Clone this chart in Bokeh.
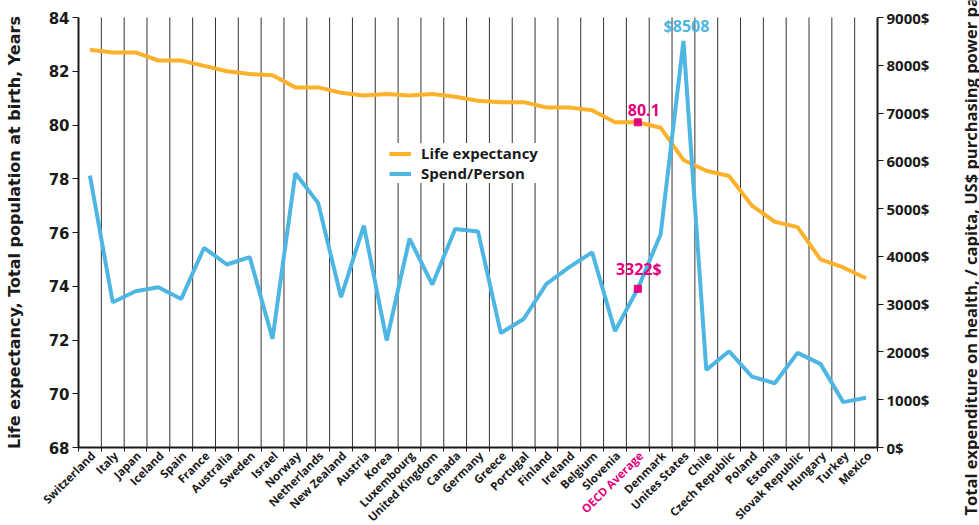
import math
from bokeh.plotting import figure
from bokeh.models import (Range1d, LinearAxis, FixedTicker, PrintfTickFormatter, Legend,
                          LegendItem, ColumnDataSource, Label)
from bokeh.core.properties import value
from bokeh.embed import file_html
from bokeh.resources import INLINE

countries = ["Switzerland", "Italy", "Japan", "Iceland", "Spain", "France", "Australia",
             "Sweden", "Israel", "Norway", "Netherlands", "New Zealand", "Austria", "Korea",
             "Luxembourg", "United Kingdom", "Canada", "Germany", "Greece", "Portugal",
             "Finland", "Ireland", "Belgium", "Slovenia", "OECD Average", "Denmark",
             "Unites States", "Chile", "Czech Republic", "Poland", "Estonia",
             "Slovak Republic", "Hungary", "Turkey", "Mexico"]
life = [82.8, 82.7, 82.7, 82.4, 82.4, 82.2, 82.0, 81.9, 81.85, 81.4, 81.4, 81.2, 81.1,
        81.15, 81.1, 81.15, 81.05, 80.9, 80.85, 80.85, 80.65, 80.65, 80.55, 80.1, 80.1,
        79.9, 78.7, 78.3, 78.1, 77.0, 76.4, 76.2, 75.0, 74.7, 74.3]
spend = [5690, 3040, 3270, 3355, 3110, 4180, 3830, 3985, 2275, 5740, 5115, 3145, 4645,
         2240, 4370, 3410, 4575, 4520, 2395, 2690, 3425, 3775, 4085, 2435, 3322, 4465,
         8508, 1625, 2015, 1485, 1345, 1980, 1750, 950, 1040]
left_ticks = [68, 70, 72, 74, 76, 78, 80, 82, 84]
right_ticks = [0, 1000, 2000, 3000, 4000, 5000, 6000, 7000, 8000, 9000]
highlight = "OECD Average"
peak = "Unites States"

ORANGE = "#FBB12B"
BLUE = "#4DB6E3"
MAGENTA = "#E5007E"
INK = "#1a1a1a"
GEO = "Open Sans"
SANS = "DejaVu Sans"

# canvas layout (pixels): the plotting area proper sits inside a full-canvas frame
W, H = 979, 525
AX_L, AX_R, AX_T, AX_B = 78, 877, 17, 447

n = len(countries)
xs = [i + 0.5 for i in range(n)]
bounds_x = list(range(0, n + 1))

ylo, yhi = left_ticks[0], left_ticks[-1]
slo, shi = right_ticks[0], right_ticks[-1]
xu = n / (AX_R - AX_L)            # data units per pixel (x)
yu = (yhi - ylo) / (AX_B - AX_T)  # data units per pixel (y)
k = (shi - slo) / (yhi - ylo)     # spend per life unit

x_range = Range1d(-AX_L * xu, n + (W - AX_R) * xu)
y_range = Range1d(ylo - (H - AX_B) * yu, yhi + AX_T * yu)
s_range = Range1d(slo + (y_range.start - ylo) * k, shi + (y_range.end - yhi) * k)

p = figure(width=W, height=H, output_backend="svg", toolbar_location=None,
           x_range=x_range, y_range=y_range, min_border=0)
p.min_border_left = p.min_border_right = p.min_border_top = p.min_border_bottom = 0
p.extra_y_ranges = {"spend": s_range}
p.outline_line_color = None
p.background_fill_color = "white"
p.xgrid.visible = False
p.ygrid.visible = False

# vertical rules at category boundaries
inner = bounds_x[1:-1]
p.segment(x0=inner, y0=[ylo] * len(inner), x1=inner, y1=[yhi] * len(inner),
          line_color="#333333", line_width=1)

# x axis along the 68 line
xa = p.xaxis[0]
xa.fixed_location = ylo
xa.bounds = (0, n)
xa.ticker = FixedTicker(ticks=[], minor_ticks=bounds_x)
xa.minor_tick_out = 4
xa.minor_tick_in = 0
xa.minor_tick_line_color = INK
xa.major_tick_out = 0
xa.major_tick_in = 0
xa.axis_line_color = INK
xa.axis_line_width = 2
xa.major_label_text_font_size = "0px"

# left axis
ya = p.yaxis[0]
ya.fixed_location = 0
ya.bounds = (ylo, yhi)
ya.ticker = FixedTicker(ticks=left_ticks)
ya.axis_label = "Life expectancy, Total population at birth, Years"
ya.axis_label_text_font = SANS
ya.axis_label_text_font_style = "bold"
ya.axis_label_text_font_size = "16px"
ya.axis_label_text_color = INK
ya.axis_label_standoff = 22
ya.major_label_text_font = SANS
ya.major_label_text_font_style = "bold"
ya.major_label_text_font_size = "15px"
ya.major_label_text_color = INK
ya.major_label_standoff = 3
ya.major_tick_out = 6
ya.major_tick_in = 0
ya.major_tick_line_color = INK
ya.minor_tick_out = 0
ya.minor_tick_in = 0
ya.axis_line_color = INK
ya.axis_line_width = 2

# right axis
ra = LinearAxis(y_range_name="spend", ticker=FixedTicker(ticks=right_ticks),
                formatter=PrintfTickFormatter(format="%d$"))
ra.fixed_location = n
ra.bounds = (slo, shi)
ra.major_label_text_font = GEO
ra.major_label_text_font_style = "bold"
ra.major_label_text_font_size = "15px"
ra.major_label_text_color = INK
ra.major_label_standoff = 3
ra.major_tick_out = 6
ra.major_tick_in = 0
ra.major_tick_line_color = INK
ra.minor_tick_out = 0
ra.minor_tick_in = 0
ra.axis_line_color = INK
ra.axis_line_width = 2
p.add_layout(ra, "right")

# right axis title, reading upward, starting near the bottom of the page
p.add_layout(Label(x=n, y=ylo - (515 - AX_B) * yu, x_offset=93,
                   text="Total expenditure on health, / capita, US$ purchasing power parity",
                   angle=math.pi / 2, text_align="left", text_baseline="middle",
                   text_font=GEO, text_font_style="bold", text_font_size="16.5px",
                   text_color=INK))

# series
r_life = p.line(xs, life, color=ORANGE, line_width=4)
r_spend = p.line(xs, spend, y_range_name="spend", color=BLUE, line_width=4)

legend = Legend(items=[LegendItem(label="Life expectancy", renderers=[r_life]),
                       LegendItem(label="Spend/Person", renderers=[r_spend])],
                location=(389, 342), padding=18, spacing=0, margin=0,
                glyph_width=22, glyph_height=19, label_height=19, label_standoff=10,
                label_text_font=GEO, label_text_font_style="bold",
                label_text_font_size="15px", label_text_color=INK,
                border_line_color=None, background_fill_color="white",
                background_fill_alpha=1.0)
p.add_layout(legend)

# category labels
src = ColumnDataSource(dict(
    x=xs, y=[ylo] * n, name=countries,
    color=[MAGENTA if c == highlight else INK for c in countries]))
p.text(x="x", y="y", text="name", source=src, angle=math.pi / 4,
       text_align="right", text_baseline="middle", x_offset=3, y_offset=6,
       text_color="color", text_font=value(GEO), text_font_style="bold",
       text_font_size="11.5px")

# highlights
hi = countries.index(highlight)
pk = countries.index(peak)
p.scatter([xs[hi]], [life[hi]], marker="square", size=7, color=MAGENTA)
p.scatter([xs[hi]], [spend[hi]], marker="square", size=7, color=MAGENTA,
          y_range_name="spend")
p.add_layout(Label(x=xs[hi], y=life[hi], text=f"{life[hi]}", text_align="center",
                   text_baseline="bottom", x_offset=6, y_offset=6, text_color=MAGENTA,
                   text_font=GEO, text_font_style="bold", text_font_size="16px"))
p.add_layout(Label(x=xs[hi], y=spend[hi], y_range_name="spend", text=f"{spend[hi]}$",
                   text_align="center", text_baseline="bottom", x_offset=1, y_offset=9,
                   text_color=MAGENTA, text_font=GEO, text_font_style="bold",
                   text_font_size="16px"))
p.add_layout(Label(x=xs[pk], y=spend[pk], y_range_name="spend", text=f"${spend[pk]}",
                   text_align="center", text_baseline="bottom", x_offset=3, y_offset=4,
                   text_color=BLUE, text_font=GEO, text_font_style="bold",
                   text_font_size="16px"))

open("out.html", "w").write(file_html(p, INLINE))
